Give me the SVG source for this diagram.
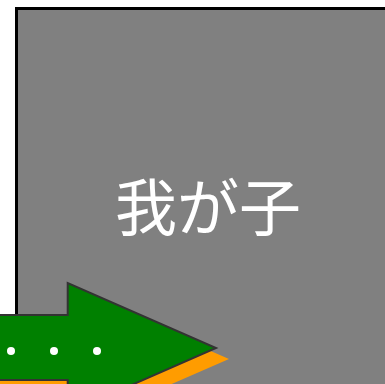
<svg xmlns="http://www.w3.org/2000/svg" width="385" height="384" viewBox="0 0 385 384">
<style>
.lbl{font-family:"Noto Sans CJK JP","Noto Sans CJK SC",sans-serif;font-size:62px;fill:#fff;text-anchor:middle}
.dot{fill:#fff}
</style>
<rect width="385" height="384" fill="#fff"/>
<g id="node-box">
<rect x="16.5" y="8.5" width="380" height="390" fill="#808080" stroke="#000" stroke-width="3"/>
<text class="lbl" x="208" y="231">我が子</text>
</g>
<g id="node-arrow">
<path d="M-20 326 H80 V294 L229 359 L80 424 V391 H-20 Z" fill="#ff9c00"/>
<path d="M-20 315 H67.7 V283 L216 348 L67.7 413 V380 H-20 Z" fill="#008000" stroke="#333" stroke-width="2"/>
<circle class="dot" cx="11" cy="351" r="4"/>
<circle class="dot" cx="54" cy="351" r="4"/>
<circle class="dot" cx="97" cy="351" r="4"/>
</g>
<g id="connectors"></g>
</svg>
